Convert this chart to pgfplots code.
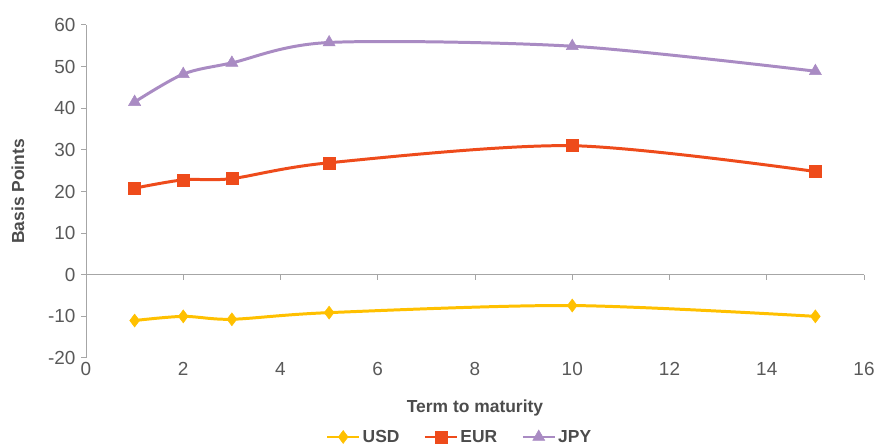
\documentclass[border=0pt]{standalone}
\usepackage{pgfplots}
\pgfplotsset{compat=1.18}
\usepackage{fontspec}
\setmainfont{Liberation Sans}
\definecolor{usd}{HTML}{FFC000}
\definecolor{eur}{HTML}{EE4B1B}
\definecolor{jpy}{HTML}{A98BC3}
\definecolor{tickgray}{HTML}{595959}
\definecolor{axgray}{HTML}{A6A6A6}
\begin{document}
\begin{tikzpicture}[x=1bp,y=1bp]
\useasboundingbox (-86,-87) rectangle (793,358);
\begin{axis}[
  at={(0,0)}, anchor=south west,
  scale only axis,
  width=778bp, height=333bp,
  xmin=0, xmax=16, ymin=-20, ymax=60,
  xtick={0,2,...,16}, ytick={-20,-10,...,60},
  axis x line*=bottom,
  axis y line*=left,
  x axis line style={draw=none},
  y axis line style={draw=axgray, line width=1pt, -},
  major tick length=0pt,
  /pgf/number format/assume math mode=true,
  ticklabel style={font=\fontsize{19}{22}\selectfont, text=tickgray},
  xticklabel style={yshift=-1bp},
  yticklabel style={xshift=-7bp},
  ylabel={\textbf{Basis Points}},
  ylabel style={font=\fontsize{17.5}{20}\selectfont, text=tickgray!85!black,
     at={(axis description cs:0,0.5)}, anchor=center, yshift=68bp},
  xlabel={\textbf{Term to maturity}},
  xlabel style={font=\fontsize{17.5}{20}\selectfont, text=tickgray!85!black,
     at={(axis description cs:0.5,0)}, anchor=center, yshift=-50bp},
  legend style={at={(axis description cs:0.48,0)}, anchor=center, yshift=-79bp,
    draw=none, fill=none, legend columns=3,
    font=\bfseries\fontsize{17.5}{20}\selectfont, text=tickgray!85!black,
    inner sep=0pt,
    /tikz/every even column/.append style={column sep=22bp}},
  legend cell align=left,
  legend image code/.code={\draw[#1, mark repeat=2, mark phase=2] plot coordinates {(0bp,0bp) (16bp,0bp) (32bp,0bp)};},
  clip=false,
]
% x axis line at y=0 (its labels stay at the bottom), with tick marks
\addplot[axgray, line width=1pt, forget plot] coordinates {(0,0) (16,0)};
\addplot[axgray, line width=1pt, only marks, mark=|, mark size=2.5bp, forget plot, mark options={yshift=-2.5bp}] coordinates {(0,0) (2,0) (4,0) (6,0) (8,0) (10,0) (12,0) (14,0) (16,0)};
% y axis tick marks
\addplot[axgray, line width=1pt, only marks, mark=-, mark size=2.5bp, forget plot, mark options={xshift=-2.5bp}] coordinates {(0,-20) (0,-10) (0,0) (0,10) (0,20) (0,30) (0,40) (0,50) (0,60)};
\addplot[usd, line width=3pt, smooth, mark=diamond*, mark size=6.5bp, mark options={line width=0.5pt}] coordinates {
(1,-11) (2,-10) (3,-10.7) (5,-9.1) (10,-7.4) (15,-10)};
\addlegendentry{USD}
\addplot[eur, line width=3pt, smooth, mark=square*, mark size=6bp, mark options={line width=0.5pt}] coordinates {
(1,20.8) (2,22.8) (3,23.1) (5,26.9) (10,31) (15,24.8)};
\addlegendentry{EUR}
\addplot[jpy, line width=3pt, smooth, mark=triangle*, mark size=7bp, mark options={line width=0.5pt}] coordinates {
(1,41.5) (2,48.2) (3,50.9) (5,55.8) (10,54.9) (15,48.9)};
\addlegendentry{JPY}
\end{axis}
\end{tikzpicture}
\end{document}
